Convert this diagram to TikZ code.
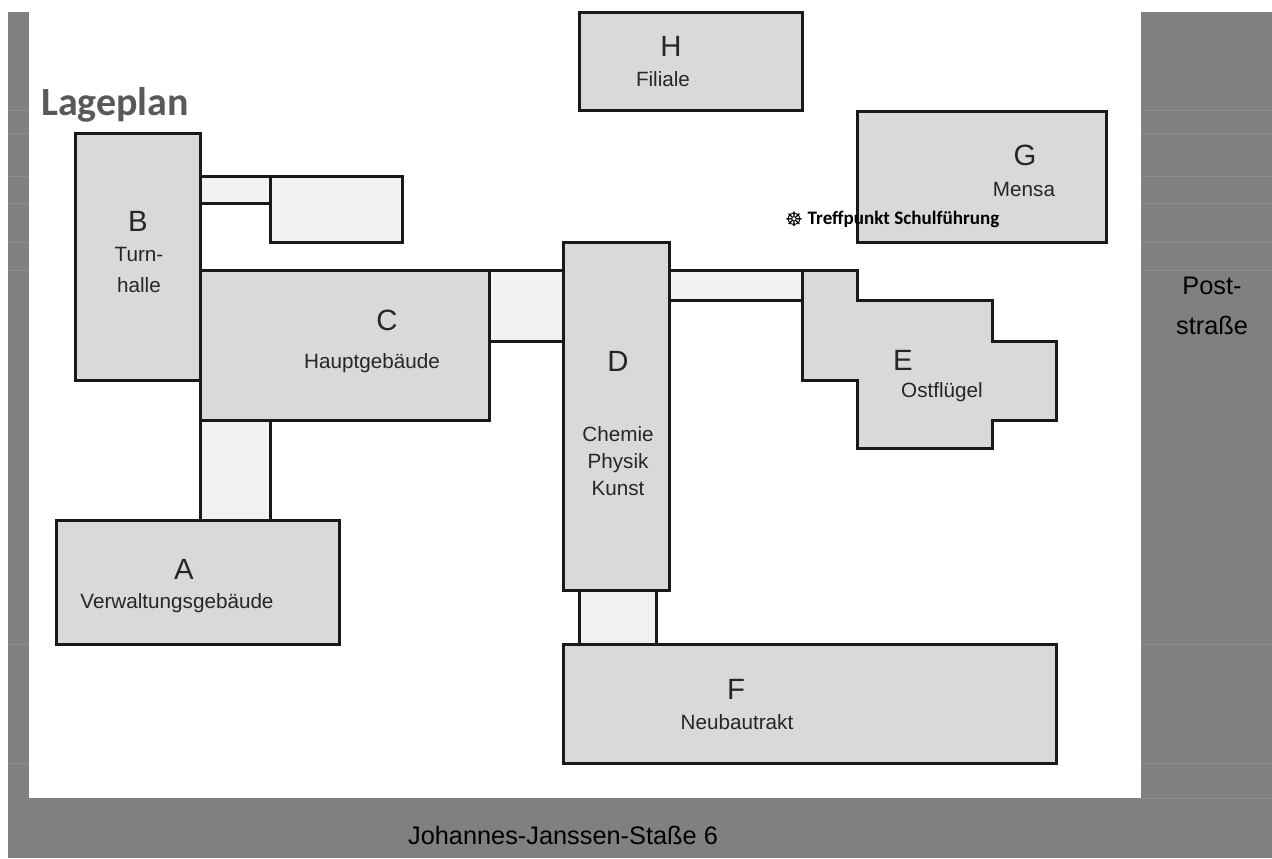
\documentclass[tikz,border=0pt]{standalone}
\usepackage{fontspec}
\setmainfont{Liberation Sans}
\newfontfamily\calibrifont{Carlito}
\newfontfamily\symbolfont{DejaVu Sans}
\definecolor{roadGray}{HTML}{808080}
\definecolor{seamGray}{HTML}{8C8C8C}
\definecolor{houseGray}{HTML}{D9D9D9}
\definecolor{linkGray}{HTML}{F1F1F1}
\definecolor{labelGray}{HTML}{262626}
\definecolor{titleGray}{HTML}{595959}
\begin{document}
\begin{tikzpicture}[x=0.75pt,y=-0.75pt]
\tikzstyle{road} = [fill=roadGray,draw=none]
\tikzstyle{seam} = [draw=seamGray,line width=0.6pt]
\tikzstyle{house} = [fill=houseGray,draw=black!90,line width=2.25pt,line join=miter]
\tikzstyle{link} = [fill=linkGray,draw=black!90,line width=2.25pt,line join=miter]
\tikzstyle{letter} = [font=\fontsize{22}{24}\selectfont,text=labelGray,inner sep=0pt]
\tikzstyle{caption} = [font=\fontsize{15.5}{18}\selectfont,text=labelGray,inner sep=0pt,align=center]
\useasboundingbox (0,0) rectangle (1272,858);
% roads
\fill[road] (8,12) rectangle (29,858);
\fill[road] (1141,12) rectangle (1272,858);
\fill[road] (8,798) rectangle (1272,858);
\foreach \y in {110,133,176,203,242,270,644,763} {
\draw[seam] (8,\y) -- (29,\y);
\draw[seam] (1141,\y) -- (1272,\y);
}
\draw[seam] (1141,798) -- (1272,798);
% connecting wings
\draw[link] (200,176) rectangle (270,203);
\draw[link] (270,176) rectangle (402,242);
\draw[link] (489,270) rectangle (563,341);
\draw[link] (669,270) rectangle (802,300);
\draw[link] (200,420) rectangle (270,520);
\draw[link] (579,590) rectangle (656,644);
% buildings
\draw[house] (579,12) rectangle (802,110);
\draw[house] (857,111) rectangle (1106,242);
\draw[house] (75,133) rectangle (200,380);
\draw[house] (200,270) rectangle (489,420);
\draw[house] (563,242) rectangle (669,590);
\draw[house] (802,270) -- (857,270) -- (857,300) -- (992,300) -- (992,341) -- (1056,341) -- (1056,420) -- (992,420) -- (992,448) -- (857,448) -- (857,380) -- (802,380) -- cycle;
\draw[house] (56,520) rectangle (339,644);
\draw[house] (563,644) rectangle (1056,763);
% labels
\node (titleL) at (115,105) [font=\calibrifont\bfseries\fontsize{30}{32}\selectfont,text=titleGray,inner sep=0pt] {Lageplan};
\node (letterH) at (671,46) [letter] {H};
\node (nameH) at (663,79) [caption] {Filiale};
\node (letterG) at (1025,155) [letter] {G};
\node (nameG) at (1024,189) [caption] {Mensa};
\node (letterB) at (138,221) [letter] {B};
\node (nameB) at (139,270) [caption] {Turn-\\[5pt]halle};
\node (letterC) at (387,320) [letter] {C};
\node (nameC) at (372,363) [caption] {Hauptgebäude};
\node (letterD) at (618,361) [letter] {D};
\node (nameD) at (618,461) [caption] {Chemie\\[2pt]Physik\\[2pt]Kunst};
\node (letterE) at (903,360) [letter] {E};
\node (nameE) at (942,392) [caption] {Ostflügel};
\node (letterA) at (184,569) [letter] {A};
\node (nameA) at (177,603) [caption] {Verwaltungsgebäude};
\node (letterF) at (736,689) [letter] {F};
\node (nameF) at (737,722) [caption] {Neubautrakt};
\node (post) at (1212,306) [caption,font=\fontsize{19}{30.5}\selectfont,text=black] {Post-\\straße};
\node (street) at (563,835) [caption,font=\fontsize{19}{20}\selectfont,text=black] {Johannes-Janssen-Staße 6};
\node (meetmark) at (794,219) [font=\symbolfont\fontsize{15}{16}\selectfont,text=black,inner sep=0pt] {☸};
\node (meet) at (903.5,219) [font=\calibrifont\bfseries\fontsize{14.3}{16}\selectfont,text=black,inner sep=0pt] {Treffpunkt Schulführung};
\end{tikzpicture}
\end{document}
